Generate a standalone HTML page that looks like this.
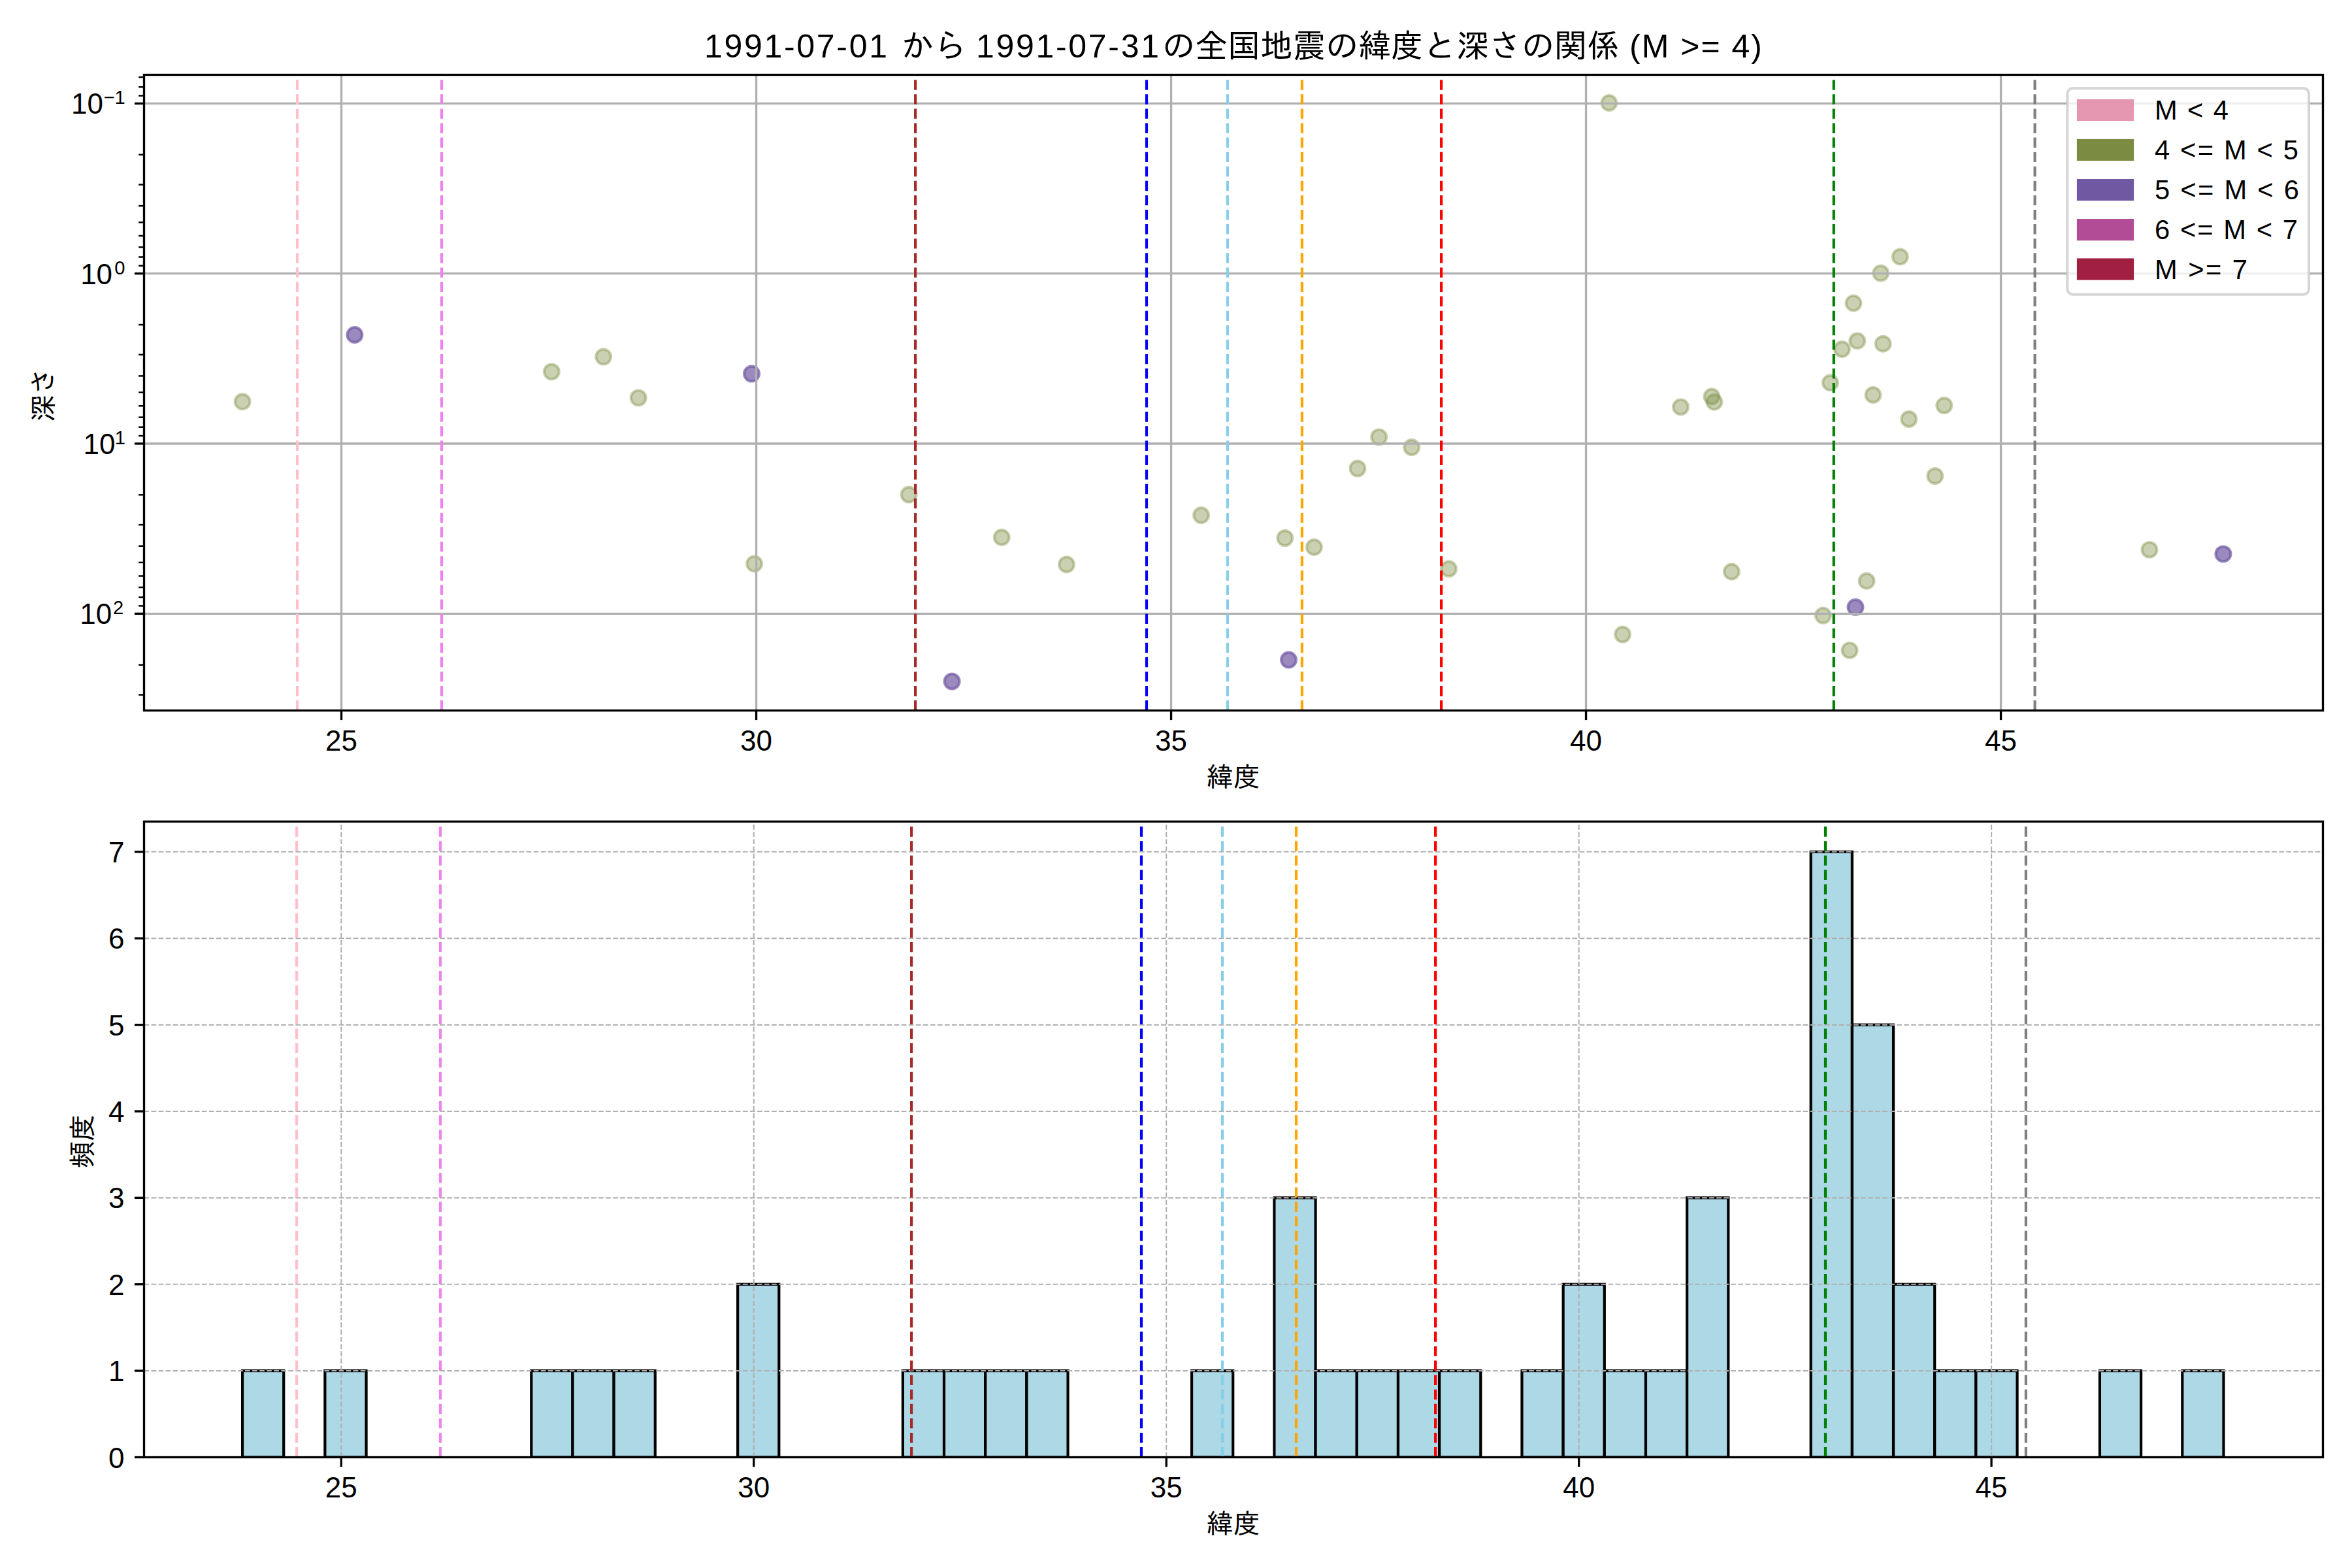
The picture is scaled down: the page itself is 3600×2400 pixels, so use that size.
<!DOCTYPE html>
<html lang="ja"><head><meta charset="utf-8"><title>1991-07 全国地震の緯度と深さの関係</title>
<style>html,body{margin:0;padding:0;background:#fff}body{width:3600px;height:2400px;overflow:hidden}</style></head>
<body>
<svg width="3600" height="2400" viewBox="0 0 3600 2400" style="display:block;font-family:'Liberation Sans', 'IPAGothic', sans-serif">
<rect width="3600" height="2400" fill="#fff"/>
<defs><clipPath id="c1"><rect x="220.5" y="114.5" width="3335.0" height="973.0"/></clipPath><clipPath id="c2"><rect x="220.5" y="1257.5" width="3335.0" height="973.0"/></clipPath></defs>
<g clip-path="url(#c1)">
<circle cx="371.1" cy="614.8" r="11.41" fill="#7b8c42" fill-opacity="0.4" stroke="#7b8c42" stroke-opacity="0.4" stroke-width="4.17"/>
<circle cx="844.3" cy="568.9" r="11.41" fill="#7b8c42" fill-opacity="0.4" stroke="#7b8c42" stroke-opacity="0.4" stroke-width="4.17"/>
<circle cx="923.6" cy="546.1" r="11.41" fill="#7b8c42" fill-opacity="0.4" stroke="#7b8c42" stroke-opacity="0.4" stroke-width="4.17"/>
<circle cx="977.1" cy="608.9" r="11.41" fill="#7b8c42" fill-opacity="0.4" stroke="#7b8c42" stroke-opacity="0.4" stroke-width="4.17"/>
<circle cx="1154.6" cy="862.9" r="11.41" fill="#7b8c42" fill-opacity="0.4" stroke="#7b8c42" stroke-opacity="0.4" stroke-width="4.17"/>
<circle cx="1391.1" cy="757.1" r="11.41" fill="#7b8c42" fill-opacity="0.4" stroke="#7b8c42" stroke-opacity="0.4" stroke-width="4.17"/>
<circle cx="1533.2" cy="822.5" r="11.41" fill="#7b8c42" fill-opacity="0.4" stroke="#7b8c42" stroke-opacity="0.4" stroke-width="4.17"/>
<circle cx="1632.5" cy="863.9" r="11.41" fill="#7b8c42" fill-opacity="0.4" stroke="#7b8c42" stroke-opacity="0.4" stroke-width="4.17"/>
<circle cx="1838.6" cy="788.6" r="11.41" fill="#7b8c42" fill-opacity="0.4" stroke="#7b8c42" stroke-opacity="0.4" stroke-width="4.17"/>
<circle cx="1966.8" cy="823.6" r="11.41" fill="#7b8c42" fill-opacity="0.4" stroke="#7b8c42" stroke-opacity="0.4" stroke-width="4.17"/>
<circle cx="2011.4" cy="837.5" r="11.41" fill="#7b8c42" fill-opacity="0.4" stroke="#7b8c42" stroke-opacity="0.4" stroke-width="4.17"/>
<circle cx="2077.9" cy="717.1" r="11.41" fill="#7b8c42" fill-opacity="0.4" stroke="#7b8c42" stroke-opacity="0.4" stroke-width="4.17"/>
<circle cx="2110.7" cy="668.9" r="11.41" fill="#7b8c42" fill-opacity="0.4" stroke="#7b8c42" stroke-opacity="0.4" stroke-width="4.17"/>
<circle cx="2160.7" cy="684.6" r="11.41" fill="#7b8c42" fill-opacity="0.4" stroke="#7b8c42" stroke-opacity="0.4" stroke-width="4.17"/>
<circle cx="2217.5" cy="870.7" r="11.41" fill="#7b8c42" fill-opacity="0.4" stroke="#7b8c42" stroke-opacity="0.4" stroke-width="4.17"/>
<circle cx="2462.9" cy="157.5" r="11.41" fill="#7b8c42" fill-opacity="0.4" stroke="#7b8c42" stroke-opacity="0.4" stroke-width="4.17"/>
<circle cx="2483.6" cy="971.1" r="11.41" fill="#7b8c42" fill-opacity="0.4" stroke="#7b8c42" stroke-opacity="0.4" stroke-width="4.17"/>
<circle cx="2572.5" cy="622.9" r="11.41" fill="#7b8c42" fill-opacity="0.4" stroke="#7b8c42" stroke-opacity="0.4" stroke-width="4.17"/>
<circle cx="2620.0" cy="607.0" r="11.41" fill="#7b8c42" fill-opacity="0.4" stroke="#7b8c42" stroke-opacity="0.4" stroke-width="4.17"/>
<circle cx="2623.9" cy="615.2" r="11.41" fill="#7b8c42" fill-opacity="0.4" stroke="#7b8c42" stroke-opacity="0.4" stroke-width="4.17"/>
<circle cx="2650.4" cy="875.0" r="11.41" fill="#7b8c42" fill-opacity="0.4" stroke="#7b8c42" stroke-opacity="0.4" stroke-width="4.17"/>
<circle cx="2790.4" cy="942.1" r="11.41" fill="#7b8c42" fill-opacity="0.4" stroke="#7b8c42" stroke-opacity="0.4" stroke-width="4.17"/>
<circle cx="2801.4" cy="585.8" r="11.41" fill="#7b8c42" fill-opacity="0.4" stroke="#7b8c42" stroke-opacity="0.4" stroke-width="4.17"/>
<circle cx="2819.4" cy="534.5" r="11.41" fill="#7b8c42" fill-opacity="0.4" stroke="#7b8c42" stroke-opacity="0.4" stroke-width="4.17"/>
<circle cx="2831.1" cy="995.4" r="11.41" fill="#7b8c42" fill-opacity="0.4" stroke="#7b8c42" stroke-opacity="0.4" stroke-width="4.17"/>
<circle cx="2837.0" cy="464.0" r="11.41" fill="#7b8c42" fill-opacity="0.4" stroke="#7b8c42" stroke-opacity="0.4" stroke-width="4.17"/>
<circle cx="2842.8" cy="521.8" r="11.41" fill="#7b8c42" fill-opacity="0.4" stroke="#7b8c42" stroke-opacity="0.4" stroke-width="4.17"/>
<circle cx="2857.1" cy="889.3" r="11.41" fill="#7b8c42" fill-opacity="0.4" stroke="#7b8c42" stroke-opacity="0.4" stroke-width="4.17"/>
<circle cx="2867.0" cy="604.5" r="11.41" fill="#7b8c42" fill-opacity="0.4" stroke="#7b8c42" stroke-opacity="0.4" stroke-width="4.17"/>
<circle cx="2878.7" cy="418.1" r="11.41" fill="#7b8c42" fill-opacity="0.4" stroke="#7b8c42" stroke-opacity="0.4" stroke-width="4.17"/>
<circle cx="2882.2" cy="526.2" r="11.41" fill="#7b8c42" fill-opacity="0.4" stroke="#7b8c42" stroke-opacity="0.4" stroke-width="4.17"/>
<circle cx="2908.3" cy="393.0" r="11.41" fill="#7b8c42" fill-opacity="0.4" stroke="#7b8c42" stroke-opacity="0.4" stroke-width="4.17"/>
<circle cx="2921.8" cy="641.5" r="11.41" fill="#7b8c42" fill-opacity="0.4" stroke="#7b8c42" stroke-opacity="0.4" stroke-width="4.17"/>
<circle cx="2961.8" cy="728.6" r="11.41" fill="#7b8c42" fill-opacity="0.4" stroke="#7b8c42" stroke-opacity="0.4" stroke-width="4.17"/>
<circle cx="2975.8" cy="620.6" r="11.41" fill="#7b8c42" fill-opacity="0.4" stroke="#7b8c42" stroke-opacity="0.4" stroke-width="4.17"/>
<circle cx="3290.0" cy="841.4" r="11.41" fill="#7b8c42" fill-opacity="0.4" stroke="#7b8c42" stroke-opacity="0.4" stroke-width="4.17"/>
<circle cx="542.9" cy="512.5" r="11.41" fill="#7058a2" fill-opacity="0.7" stroke="#7058a2" stroke-opacity="0.7" stroke-width="4.17"/>
<circle cx="1150.5" cy="572.1" r="11.41" fill="#7058a2" fill-opacity="0.7" stroke="#7058a2" stroke-opacity="0.7" stroke-width="4.17"/>
<circle cx="1457.1" cy="1042.9" r="11.41" fill="#7058a2" fill-opacity="0.7" stroke="#7058a2" stroke-opacity="0.7" stroke-width="4.17"/>
<circle cx="1972.5" cy="1010.0" r="11.41" fill="#7058a2" fill-opacity="0.7" stroke="#7058a2" stroke-opacity="0.7" stroke-width="4.17"/>
<circle cx="2840.0" cy="929.3" r="11.41" fill="#7058a2" fill-opacity="0.7" stroke="#7058a2" stroke-opacity="0.7" stroke-width="4.17"/>
<circle cx="3402.9" cy="847.9" r="11.41" fill="#7058a2" fill-opacity="0.7" stroke="#7058a2" stroke-opacity="0.7" stroke-width="4.17"/>
<line x1="522.55" x2="522.55" y1="114.5" y2="1087.5" stroke="#b0b0b0" stroke-width="3.33"/>
<line x1="1157.55" x2="1157.55" y1="114.5" y2="1087.5" stroke="#b0b0b0" stroke-width="3.33"/>
<line x1="1792.55" x2="1792.55" y1="114.5" y2="1087.5" stroke="#b0b0b0" stroke-width="3.33"/>
<line x1="2427.55" x2="2427.55" y1="114.5" y2="1087.5" stroke="#b0b0b0" stroke-width="3.33"/>
<line x1="3062.55" x2="3062.55" y1="114.5" y2="1087.5" stroke="#b0b0b0" stroke-width="3.33"/>
<line x1="220.5" x2="3555.5" y1="158.40" y2="158.40" stroke="#b0b0b0" stroke-width="3.33"/>
<line x1="220.5" x2="3555.5" y1="418.70" y2="418.70" stroke="#b0b0b0" stroke-width="3.33"/>
<line x1="220.5" x2="3555.5" y1="679.00" y2="679.00" stroke="#b0b0b0" stroke-width="3.33"/>
<line x1="220.5" x2="3555.5" y1="939.30" y2="939.30" stroke="#b0b0b0" stroke-width="3.33"/>
<line x1="455.0" x2="455.0" y1="1087.5" y2="114.5" stroke="#ffc0cb" stroke-width="4.17" stroke-dasharray="15.42 6.67"/>
<line x1="676.0" x2="676.0" y1="1087.5" y2="114.5" stroke="#ee82ee" stroke-width="4.17" stroke-dasharray="15.42 6.67"/>
<line x1="1401.1" x2="1401.1" y1="1087.5" y2="114.5" stroke="#a52a2a" stroke-width="4.17" stroke-dasharray="15.42 6.67"/>
<line x1="1755.0" x2="1755.0" y1="1087.5" y2="114.5" stroke="#0000ff" stroke-width="4.17" stroke-dasharray="15.42 6.67"/>
<line x1="1878.9" x2="1878.9" y1="1087.5" y2="114.5" stroke="#87ceeb" stroke-width="4.17" stroke-dasharray="15.42 6.67"/>
<line x1="1992.9" x2="1992.9" y1="1087.5" y2="114.5" stroke="#ffa500" stroke-width="4.17" stroke-dasharray="15.42 6.67"/>
<line x1="2206.1" x2="2206.1" y1="1087.5" y2="114.5" stroke="#ff0000" stroke-width="4.17" stroke-dasharray="15.42 6.67"/>
<line x1="2806.8" x2="2806.8" y1="1087.5" y2="114.5" stroke="#008000" stroke-width="4.17" stroke-dasharray="15.42 6.67"/>
<line x1="3114.6" x2="3114.6" y1="1087.5" y2="114.5" stroke="#808080" stroke-width="4.17" stroke-dasharray="15.42 6.67"/>
</g>
<line x1="522.55" x2="522.55" y1="1087.5" y2="1102.08" stroke="#000" stroke-width="3.33"/>
<text x="522.5" y="1148.5" font-size="44.00" text-anchor="middle">25</text>
<line x1="1157.55" x2="1157.55" y1="1087.5" y2="1102.08" stroke="#000" stroke-width="3.33"/>
<text x="1157.5" y="1148.5" font-size="44.00" text-anchor="middle">30</text>
<line x1="1792.55" x2="1792.55" y1="1087.5" y2="1102.08" stroke="#000" stroke-width="3.33"/>
<text x="1792.5" y="1148.5" font-size="44.00" text-anchor="middle">35</text>
<line x1="2427.55" x2="2427.55" y1="1087.5" y2="1102.08" stroke="#000" stroke-width="3.33"/>
<text x="2427.6" y="1148.5" font-size="44.00" text-anchor="middle">40</text>
<line x1="3062.55" x2="3062.55" y1="1087.5" y2="1102.08" stroke="#000" stroke-width="3.33"/>
<text x="3062.6" y="1148.5" font-size="44.00" text-anchor="middle">45</text>
<line x1="205.92" x2="220.5" y1="158.40" y2="158.40" stroke="#000" stroke-width="3.33"/>
<text x="158.0" y="174.4" font-size="44.00" text-anchor="end">10</text>
<text x="158.4" y="159.4" font-size="29.17">−1</text>
<line x1="205.92" x2="220.5" y1="418.70" y2="418.70" stroke="#000" stroke-width="3.33"/>
<text x="172.1" y="434.7" font-size="44.00" text-anchor="end">10</text>
<text x="175.2" y="419.7" font-size="29.17">0</text>
<line x1="205.92" x2="220.5" y1="679.00" y2="679.00" stroke="#000" stroke-width="3.33"/>
<text x="176.5" y="695.0" font-size="44.00" text-anchor="end">10</text>
<text x="175.8" y="680.0" font-size="29.17">1</text>
<line x1="205.92" x2="220.5" y1="939.30" y2="939.30" stroke="#000" stroke-width="3.33"/>
<text x="171.3" y="955.3" font-size="44.00" text-anchor="end">10</text>
<text x="173.0" y="940.3" font-size="29.17">2</text>
<line x1="212.17" x2="220.5" y1="118.08" y2="118.08" stroke="#000" stroke-width="2.50"/>
<line x1="212.17" x2="220.5" y1="133.17" y2="133.17" stroke="#000" stroke-width="2.50"/>
<line x1="212.17" x2="220.5" y1="146.49" y2="146.49" stroke="#000" stroke-width="2.50"/>
<line x1="212.17" x2="220.5" y1="236.76" y2="236.76" stroke="#000" stroke-width="2.50"/>
<line x1="212.17" x2="220.5" y1="282.59" y2="282.59" stroke="#000" stroke-width="2.50"/>
<line x1="212.17" x2="220.5" y1="315.12" y2="315.12" stroke="#000" stroke-width="2.50"/>
<line x1="212.17" x2="220.5" y1="340.34" y2="340.34" stroke="#000" stroke-width="2.50"/>
<line x1="212.17" x2="220.5" y1="360.95" y2="360.95" stroke="#000" stroke-width="2.50"/>
<line x1="212.17" x2="220.5" y1="378.38" y2="378.38" stroke="#000" stroke-width="2.50"/>
<line x1="212.17" x2="220.5" y1="393.47" y2="393.47" stroke="#000" stroke-width="2.50"/>
<line x1="212.17" x2="220.5" y1="406.79" y2="406.79" stroke="#000" stroke-width="2.50"/>
<line x1="212.17" x2="220.5" y1="497.06" y2="497.06" stroke="#000" stroke-width="2.50"/>
<line x1="212.17" x2="220.5" y1="542.89" y2="542.89" stroke="#000" stroke-width="2.50"/>
<line x1="212.17" x2="220.5" y1="575.42" y2="575.42" stroke="#000" stroke-width="2.50"/>
<line x1="212.17" x2="220.5" y1="600.64" y2="600.64" stroke="#000" stroke-width="2.50"/>
<line x1="212.17" x2="220.5" y1="621.25" y2="621.25" stroke="#000" stroke-width="2.50"/>
<line x1="212.17" x2="220.5" y1="638.68" y2="638.68" stroke="#000" stroke-width="2.50"/>
<line x1="212.17" x2="220.5" y1="653.77" y2="653.77" stroke="#000" stroke-width="2.50"/>
<line x1="212.17" x2="220.5" y1="667.09" y2="667.09" stroke="#000" stroke-width="2.50"/>
<line x1="212.17" x2="220.5" y1="757.36" y2="757.36" stroke="#000" stroke-width="2.50"/>
<line x1="212.17" x2="220.5" y1="803.19" y2="803.19" stroke="#000" stroke-width="2.50"/>
<line x1="212.17" x2="220.5" y1="835.72" y2="835.72" stroke="#000" stroke-width="2.50"/>
<line x1="212.17" x2="220.5" y1="860.94" y2="860.94" stroke="#000" stroke-width="2.50"/>
<line x1="212.17" x2="220.5" y1="881.55" y2="881.55" stroke="#000" stroke-width="2.50"/>
<line x1="212.17" x2="220.5" y1="898.98" y2="898.98" stroke="#000" stroke-width="2.50"/>
<line x1="212.17" x2="220.5" y1="914.07" y2="914.07" stroke="#000" stroke-width="2.50"/>
<line x1="212.17" x2="220.5" y1="927.39" y2="927.39" stroke="#000" stroke-width="2.50"/>
<line x1="212.17" x2="220.5" y1="1017.66" y2="1017.66" stroke="#000" stroke-width="2.50"/>
<line x1="212.17" x2="220.5" y1="1063.49" y2="1063.49" stroke="#000" stroke-width="2.50"/>
<rect x="220.5" y="114.5" width="3335.0" height="973.0" fill="none" stroke="#000" stroke-width="3.33"/>
<text x="1888.0" y="1204" font-size="41.67" text-anchor="middle">緯度</text>
<text transform="translate(80.5,604.0) rotate(-90)" font-size="41.67" text-anchor="middle">深さ</text>
<text y="88.0" font-size="50.00"><tspan x="1078" textLength="280">1991-07-01</tspan><tspan x="1379">から</tspan><tspan x="1494" textLength="280">1991-07-31</tspan><tspan x="1779">の全国地震の緯度と深さの関係</tspan><tspan x="2494" textLength="203">(M &gt;= 4)</tspan></text>
<rect x="3164.3" y="135.2" width="369.7" height="315.5" rx="8.3" ry="8.3" fill="#fff" fill-opacity="0.8" stroke="#ccc" stroke-opacity="0.8" stroke-width="4.17"/>
<rect x="3178.9" y="151.9" width="87.2" height="33.2" fill="#e596b1"/>
<text x="3298" y="183.1" font-size="41.67" textLength="113">M &lt; 4</text>
<rect x="3178.9" y="212.9" width="87.2" height="33.2" fill="#7b8c42"/>
<text x="3298" y="244.1" font-size="41.67" textLength="220">4 &lt;= M &lt; 5</text>
<rect x="3178.9" y="274.0" width="87.2" height="33.2" fill="#7058a2"/>
<text x="3298" y="305.2" font-size="41.67" textLength="221">5 &lt;= M &lt; 6</text>
<rect x="3178.9" y="335.0" width="87.2" height="33.2" fill="#b34c97"/>
<text x="3298" y="366.2" font-size="41.67" textLength="219">6 &lt;= M &lt; 7</text>
<rect x="3178.9" y="395.4" width="87.2" height="33.2" fill="#a11f41"/>
<text x="3298" y="426.6" font-size="41.67" textLength="142">M &gt;= 7</text>
<g clip-path="url(#c2)">
<rect x="371.05" y="2098.12" width="63.17" height="132.38" fill="#add8e6" stroke="#000" stroke-width="4.17"/>
<rect x="497.40" y="2098.12" width="63.17" height="132.38" fill="#add8e6" stroke="#000" stroke-width="4.17"/>
<rect x="813.27" y="2098.12" width="63.17" height="132.38" fill="#add8e6" stroke="#000" stroke-width="4.17"/>
<rect x="876.45" y="2098.12" width="63.17" height="132.38" fill="#add8e6" stroke="#000" stroke-width="4.17"/>
<rect x="939.62" y="2098.12" width="63.17" height="132.38" fill="#add8e6" stroke="#000" stroke-width="4.17"/>
<rect x="1129.15" y="1965.74" width="63.17" height="264.76" fill="#add8e6" stroke="#000" stroke-width="4.17"/>
<rect x="1381.85" y="2098.12" width="63.17" height="132.38" fill="#add8e6" stroke="#000" stroke-width="4.17"/>
<rect x="1445.02" y="2098.12" width="63.17" height="132.38" fill="#add8e6" stroke="#000" stroke-width="4.17"/>
<rect x="1508.20" y="2098.12" width="63.17" height="132.38" fill="#add8e6" stroke="#000" stroke-width="4.17"/>
<rect x="1571.38" y="2098.12" width="63.17" height="132.38" fill="#add8e6" stroke="#000" stroke-width="4.17"/>
<rect x="1824.07" y="2098.12" width="63.17" height="132.38" fill="#add8e6" stroke="#000" stroke-width="4.17"/>
<rect x="1950.42" y="1833.36" width="63.17" height="397.14" fill="#add8e6" stroke="#000" stroke-width="4.17"/>
<rect x="2013.60" y="2098.12" width="63.17" height="132.38" fill="#add8e6" stroke="#000" stroke-width="4.17"/>
<rect x="2076.78" y="2098.12" width="63.17" height="132.38" fill="#add8e6" stroke="#000" stroke-width="4.17"/>
<rect x="2139.95" y="2098.12" width="63.17" height="132.38" fill="#add8e6" stroke="#000" stroke-width="4.17"/>
<rect x="2203.12" y="2098.12" width="63.17" height="132.38" fill="#add8e6" stroke="#000" stroke-width="4.17"/>
<rect x="2329.47" y="2098.12" width="63.17" height="132.38" fill="#add8e6" stroke="#000" stroke-width="4.17"/>
<rect x="2392.65" y="1965.74" width="63.17" height="264.76" fill="#add8e6" stroke="#000" stroke-width="4.17"/>
<rect x="2455.83" y="2098.12" width="63.17" height="132.38" fill="#add8e6" stroke="#000" stroke-width="4.17"/>
<rect x="2519.00" y="2098.12" width="63.17" height="132.38" fill="#add8e6" stroke="#000" stroke-width="4.17"/>
<rect x="2582.18" y="1833.36" width="63.17" height="397.14" fill="#add8e6" stroke="#000" stroke-width="4.17"/>
<rect x="2771.70" y="1303.83" width="63.17" height="926.67" fill="#add8e6" stroke="#000" stroke-width="4.17"/>
<rect x="2834.88" y="1568.60" width="63.17" height="661.90" fill="#add8e6" stroke="#000" stroke-width="4.17"/>
<rect x="2898.05" y="1965.74" width="63.17" height="264.76" fill="#add8e6" stroke="#000" stroke-width="4.17"/>
<rect x="2961.22" y="2098.12" width="63.17" height="132.38" fill="#add8e6" stroke="#000" stroke-width="4.17"/>
<rect x="3024.40" y="2098.12" width="63.17" height="132.38" fill="#add8e6" stroke="#000" stroke-width="4.17"/>
<rect x="3213.93" y="2098.12" width="63.17" height="132.38" fill="#add8e6" stroke="#000" stroke-width="4.17"/>
<rect x="3340.28" y="2098.12" width="63.17" height="132.38" fill="#add8e6" stroke="#000" stroke-width="4.17"/>
<line x1="522.30" x2="522.30" y1="2230.5" y2="1257.5" stroke="#b0b0b0" stroke-width="2.08" stroke-dasharray="7.71 3.33"/>
<line x1="1153.75" x2="1153.75" y1="2230.5" y2="1257.5" stroke="#b0b0b0" stroke-width="2.08" stroke-dasharray="7.71 3.33"/>
<line x1="1785.20" x2="1785.20" y1="2230.5" y2="1257.5" stroke="#b0b0b0" stroke-width="2.08" stroke-dasharray="7.71 3.33"/>
<line x1="2416.65" x2="2416.65" y1="2230.5" y2="1257.5" stroke="#b0b0b0" stroke-width="2.08" stroke-dasharray="7.71 3.33"/>
<line x1="3048.10" x2="3048.10" y1="2230.5" y2="1257.5" stroke="#b0b0b0" stroke-width="2.08" stroke-dasharray="7.71 3.33"/>
<line x1="220.5" x2="3555.5" y1="2230.50" y2="2230.50" stroke="#b0b0b0" stroke-width="2.08" stroke-dasharray="7.71 3.33"/>
<line x1="220.5" x2="3555.5" y1="2098.12" y2="2098.12" stroke="#b0b0b0" stroke-width="2.08" stroke-dasharray="7.71 3.33"/>
<line x1="220.5" x2="3555.5" y1="1965.74" y2="1965.74" stroke="#b0b0b0" stroke-width="2.08" stroke-dasharray="7.71 3.33"/>
<line x1="220.5" x2="3555.5" y1="1833.36" y2="1833.36" stroke="#b0b0b0" stroke-width="2.08" stroke-dasharray="7.71 3.33"/>
<line x1="220.5" x2="3555.5" y1="1700.98" y2="1700.98" stroke="#b0b0b0" stroke-width="2.08" stroke-dasharray="7.71 3.33"/>
<line x1="220.5" x2="3555.5" y1="1568.60" y2="1568.60" stroke="#b0b0b0" stroke-width="2.08" stroke-dasharray="7.71 3.33"/>
<line x1="220.5" x2="3555.5" y1="1436.21" y2="1436.21" stroke="#b0b0b0" stroke-width="2.08" stroke-dasharray="7.71 3.33"/>
<line x1="220.5" x2="3555.5" y1="1303.83" y2="1303.83" stroke="#b0b0b0" stroke-width="2.08" stroke-dasharray="7.71 3.33"/>
<line x1="454.1" x2="454.1" y1="2230.5" y2="1257.5" stroke="#ffc0cb" stroke-width="4.17" stroke-dasharray="15.42 6.67"/>
<line x1="674.0" x2="674.0" y1="2230.5" y2="1257.5" stroke="#ee82ee" stroke-width="4.17" stroke-dasharray="15.42 6.67"/>
<line x1="1395.1" x2="1395.1" y1="2230.5" y2="1257.5" stroke="#a52a2a" stroke-width="4.17" stroke-dasharray="15.42 6.67"/>
<line x1="1747.0" x2="1747.0" y1="2230.5" y2="1257.5" stroke="#0000ff" stroke-width="4.17" stroke-dasharray="15.42 6.67"/>
<line x1="1871.0" x2="1871.0" y1="2230.5" y2="1257.5" stroke="#87ceeb" stroke-width="4.17" stroke-dasharray="15.42 6.67"/>
<line x1="1984.0" x2="1984.0" y1="2230.5" y2="1257.5" stroke="#ffa500" stroke-width="4.17" stroke-dasharray="15.42 6.67"/>
<line x1="2197.1" x2="2197.1" y1="2230.5" y2="1257.5" stroke="#ff0000" stroke-width="4.17" stroke-dasharray="15.42 6.67"/>
<line x1="2794.0" x2="2794.0" y1="2230.5" y2="1257.5" stroke="#008000" stroke-width="4.17" stroke-dasharray="15.42 6.67"/>
<line x1="3100.9" x2="3100.9" y1="2230.5" y2="1257.5" stroke="#808080" stroke-width="4.17" stroke-dasharray="15.42 6.67"/>
</g>
<line x1="522.30" x2="522.30" y1="2230.5" y2="2245.08" stroke="#000" stroke-width="3.33"/>
<text x="522.3" y="2292.1" font-size="44.00" text-anchor="middle">25</text>
<line x1="1153.75" x2="1153.75" y1="2230.5" y2="2245.08" stroke="#000" stroke-width="3.33"/>
<text x="1153.8" y="2292.1" font-size="44.00" text-anchor="middle">30</text>
<line x1="1785.20" x2="1785.20" y1="2230.5" y2="2245.08" stroke="#000" stroke-width="3.33"/>
<text x="1785.2" y="2292.1" font-size="44.00" text-anchor="middle">35</text>
<line x1="2416.65" x2="2416.65" y1="2230.5" y2="2245.08" stroke="#000" stroke-width="3.33"/>
<text x="2416.7" y="2292.1" font-size="44.00" text-anchor="middle">40</text>
<line x1="3048.10" x2="3048.10" y1="2230.5" y2="2245.08" stroke="#000" stroke-width="3.33"/>
<text x="3048.1" y="2292.1" font-size="44.00" text-anchor="middle">45</text>
<line x1="205.92" x2="220.5" y1="2230.50" y2="2230.50" stroke="#000" stroke-width="3.33"/>
<text x="190.5" y="2246.5" font-size="44.00" text-anchor="end">0</text>
<line x1="205.92" x2="220.5" y1="2098.12" y2="2098.12" stroke="#000" stroke-width="3.33"/>
<text x="190.5" y="2114.1" font-size="44.00" text-anchor="end">1</text>
<line x1="205.92" x2="220.5" y1="1965.74" y2="1965.74" stroke="#000" stroke-width="3.33"/>
<text x="190.5" y="1981.7" font-size="44.00" text-anchor="end">2</text>
<line x1="205.92" x2="220.5" y1="1833.36" y2="1833.36" stroke="#000" stroke-width="3.33"/>
<text x="190.5" y="1849.4" font-size="44.00" text-anchor="end">3</text>
<line x1="205.92" x2="220.5" y1="1700.98" y2="1700.98" stroke="#000" stroke-width="3.33"/>
<text x="190.5" y="1717.0" font-size="44.00" text-anchor="end">4</text>
<line x1="205.92" x2="220.5" y1="1568.60" y2="1568.60" stroke="#000" stroke-width="3.33"/>
<text x="190.5" y="1584.6" font-size="44.00" text-anchor="end">5</text>
<line x1="205.92" x2="220.5" y1="1436.21" y2="1436.21" stroke="#000" stroke-width="3.33"/>
<text x="190.5" y="1452.2" font-size="44.00" text-anchor="end">6</text>
<line x1="205.92" x2="220.5" y1="1303.83" y2="1303.83" stroke="#000" stroke-width="3.33"/>
<text x="190.5" y="1319.8" font-size="44.00" text-anchor="end">7</text>
<rect x="220.5" y="1257.5" width="3335.0" height="973.0" fill="none" stroke="#000" stroke-width="3.33"/>
<text x="1888.0" y="2347.0" font-size="41.67" text-anchor="middle">緯度</text>
<text transform="translate(140.5,1746.5) rotate(-90)" font-size="41.67" text-anchor="middle">頻度</text>
</svg>
</body></html>
